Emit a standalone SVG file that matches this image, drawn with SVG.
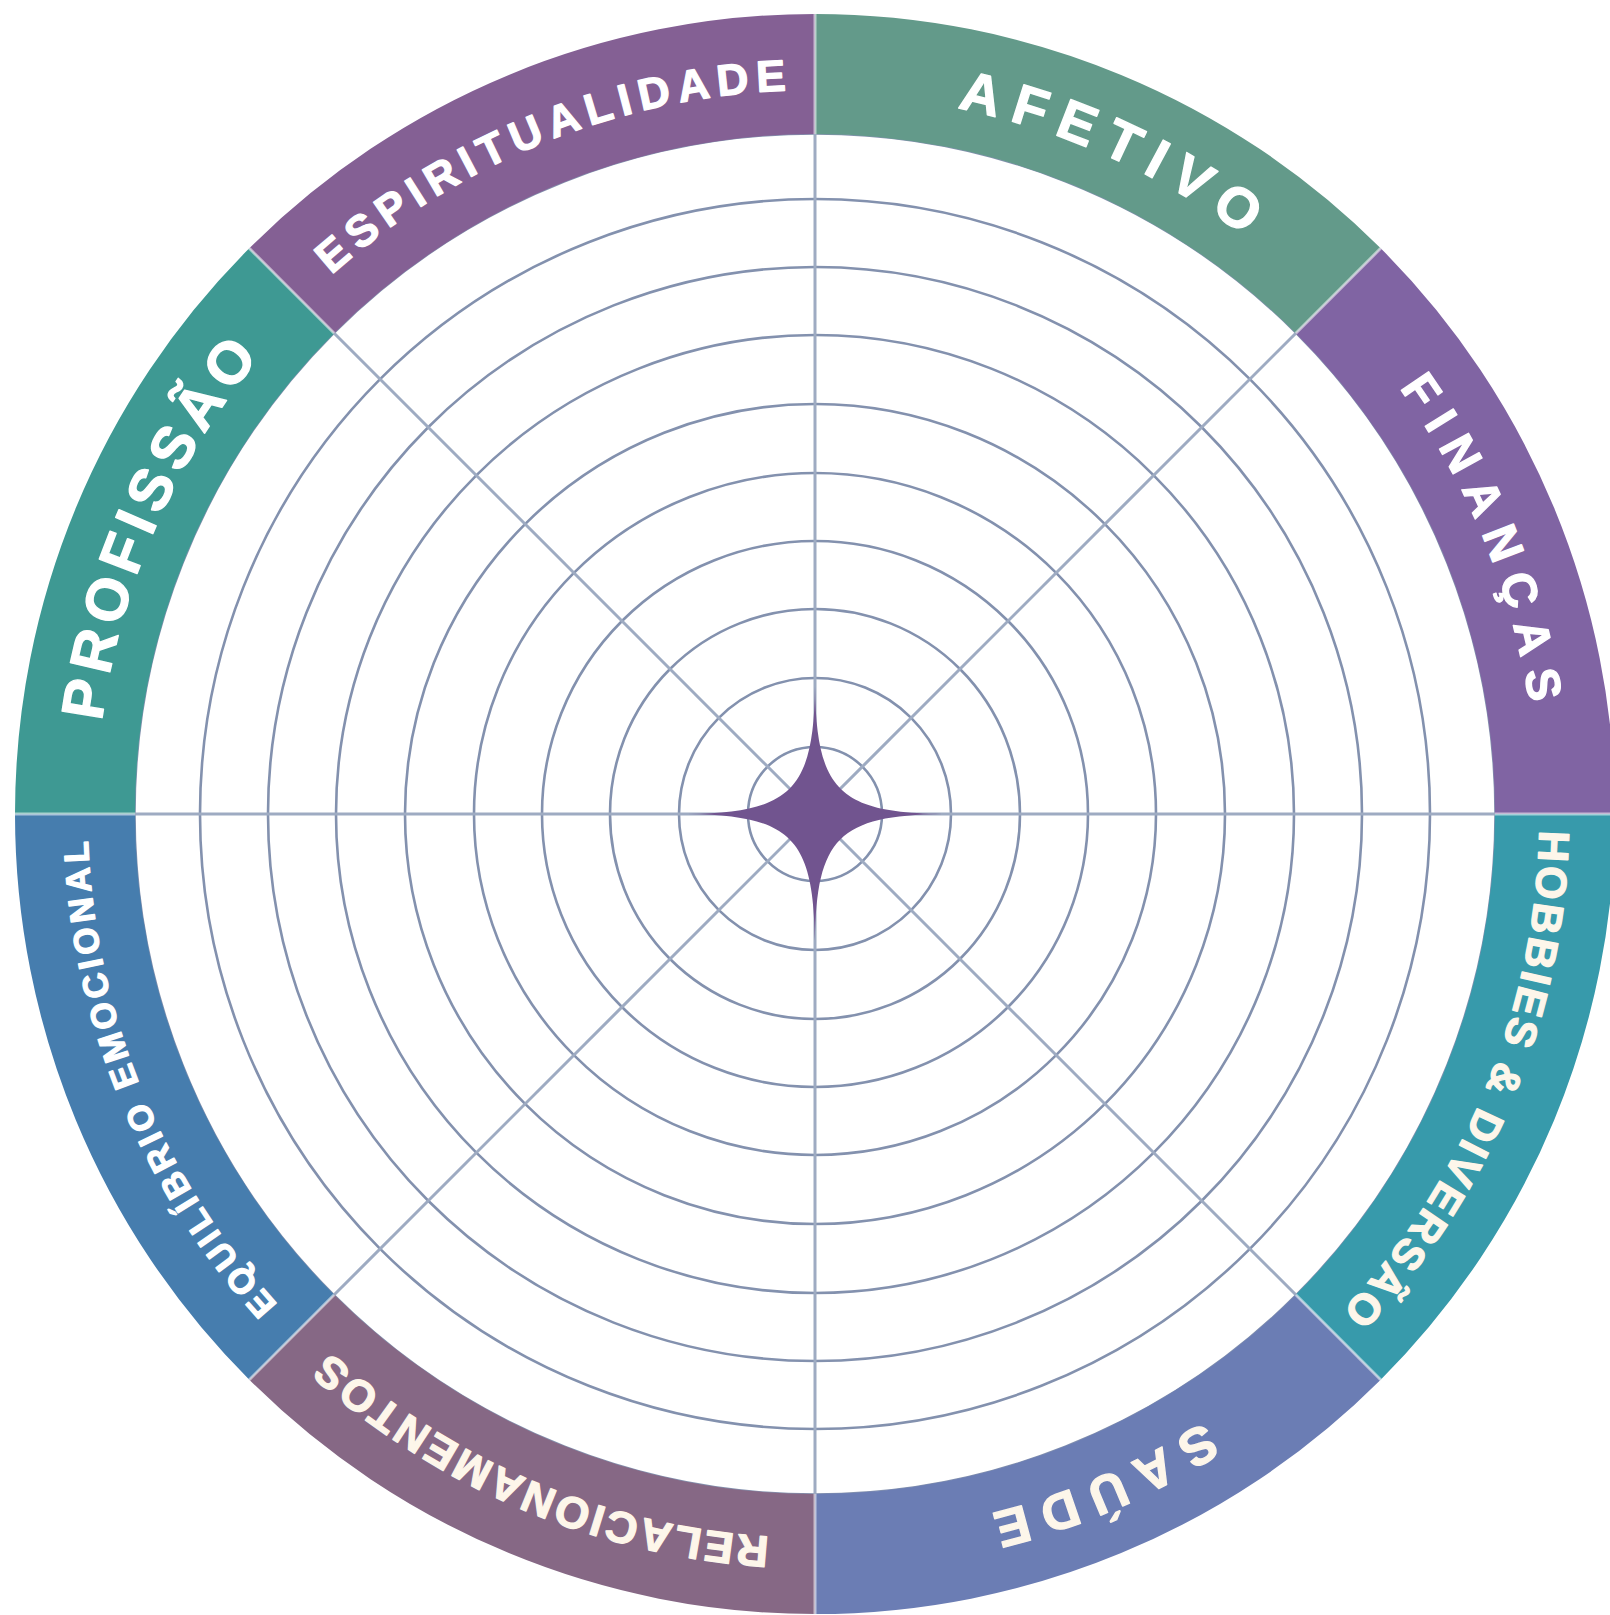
<svg xmlns="http://www.w3.org/2000/svg" width="1610" height="1615" viewBox="0 0 1610 1615">
<style>
.lbl{font-family:"Liberation Sans",Arial,sans-serif;font-weight:bold;stroke-width:1.3;stroke-linejoin:round}
.w{fill:#ffffff;stroke:#ffffff}
.c{fill:#fdf6ea;stroke:#fdf6ea}
.grid circle{fill:none;stroke:#8391ae;stroke-width:2.6}
.spoke{stroke:#9eabc2;stroke-width:3;fill:none}
.div{stroke:#ffffff;stroke-opacity:0.55;stroke-width:3}
</style>
<defs>
<path id="p-afetivo" d="M957.3,108.2 A720,720 0 0 1 1526.9,706.4"/>
<path id="p-financas" d="M1399.2,388.0 A723,723 0 0 1 1415.1,1217.2"/>
<path id="p-hobbies" d="M1539.3,830.4 A724.5,724.5 0 0 1 1047.3,1500.3"/>
<path id="p-saude" d="M1203.7,1421.8 A721.4,721.4 0 0 1 376.8,1387.1"/>
<path id="p-relac" d="M769.5,1536.9 A724.3,724.3 0 0 1 120.2,1018.5"/>
<path id="p-equil" d="M277.7,1304.6 A727.5,727.5 0 0 1 170.3,476.9"/>
<path id="p-prof" d="M102.0,721.4 A719,719 0 0 1 658.2,112.3"/>
<path id="p-espir" d="M331.5,275.1 A724,724 0 0 1 1156.0,175.4"/>
</defs>
<rect width="1610" height="1615" fill="#ffffff"/>
<g id="grid" class="grid">
<circle cx="815" cy="814" r="67"/>
<circle cx="815" cy="814" r="136"/>
<circle cx="815" cy="814" r="205"/>
<circle cx="815" cy="814" r="273"/>
<circle cx="815" cy="814" r="341"/>
<circle cx="815" cy="814" r="410"/>
<circle cx="815" cy="814" r="479"/>
<circle cx="815" cy="814" r="547"/>
<circle cx="815" cy="814" r="615"/>
<circle cx="815" cy="814" r="680" style="stroke-width:1.5"/>
</g>
<g id="connectors">
<line class="spoke" x1="815" y1="134" x2="815" y2="1494"/>
<line class="spoke" x1="135" y1="814" x2="1495" y2="814"/>
<line class="spoke" x1="1295.8" y1="333.2" x2="334.2" y2="1294.8"/>
<line class="spoke" x1="1295.8" y1="1294.8" x2="334.2" y2="333.2"/>
</g>
<g id="afetivo">
<path fill="#639a8a" d="M815,14 A800,800 0 0 1 1380.7,248.3 L1295.8,333.2 A680,680 0 0 0 815,134 Z"/>
<text class="lbl w" font-size="56" letter-spacing="12.4"><textPath href="#p-afetivo">AFETIVO</textPath></text>
</g>
<g id="financas">
<path fill="#8064a3" d="M1380.7,248.3 A800,800 0 0 1 1615,814 L1495,814 A680,680 0 0 0 1295.8,333.2 Z"/>
<text class="lbl w" font-size="48" letter-spacing="13.7"><textPath href="#p-financas">FINANÇAS</textPath></text>
</g>
<g id="hobbies">
<path fill="#379aab" d="M1615,814 A800,800 0 0 1 1380.7,1379.7 L1295.8,1294.8 A680,680 0 0 0 1495,814 Z"/>
<text class="lbl c" font-size="43" letter-spacing="3.3"><textPath href="#p-hobbies">HOBBIES &amp; DIVERSÃO</textPath></text>
</g>
<g id="saude">
<path fill="#6b7db4" d="M1380.7,1379.7 A800,800 0 0 1 815,1614 L815,1494 A680,680 0 0 0 1295.8,1294.8 Z"/>
<text class="lbl c" font-size="52" letter-spacing="12.6"><textPath href="#p-saude">SAÚDE</textPath></text>
</g>
<g id="relacionamentos">
<path fill="#866885" d="M815,1614 A800,800 0 0 1 249.3,1379.7 L334.2,1294.8 A680,680 0 0 0 815,1494 Z"/>
<text class="lbl c" font-size="44" letter-spacing="2.6"><textPath href="#p-relac">RELACIONAMENTOS</textPath></text>
</g>
<g id="equilibrio">
<path fill="#467dae" d="M249.3,1379.7 A800,800 0 0 1 15,814 L135,814 A680,680 0 0 0 334.2,1294.8 Z"/>
<text class="lbl w" font-size="35" letter-spacing="4.4"><textPath href="#p-equil">EQUILÍBRIO EMOCIONAL</textPath></text>
</g>
<g id="profissao">
<path fill="#3e9993" d="M15,814 A800,800 0 0 1 249.3,248.3 L334.2,333.2 A680,680 0 0 0 135,814 Z"/>
<text class="lbl w" font-size="59" letter-spacing="6.8"><textPath href="#p-prof">PROFISSÃO</textPath></text>
</g>
<g id="espiritualidade">
<path fill="#846094" d="M249.3,248.3 A800,800 0 0 1 815,14 L815,134 A680,680 0 0 0 334.2,333.2 Z"/>
<text class="lbl w" font-size="44" letter-spacing="7.3"><textPath href="#p-espir">ESPIRITUALIDADE</textPath></text>
</g>
<g id="dividers">
<line class="div" x1="815" y1="14" x2="815" y2="134"/>
<line class="div" x1="1380.7" y1="248.3" x2="1295.8" y2="333.2"/>
<line class="div" x1="1615" y1="814" x2="1495" y2="814"/>
<line class="div" x1="1380.7" y1="1379.7" x2="1295.8" y2="1294.8"/>
<line class="div" x1="815" y1="1614" x2="815" y2="1494"/>
<line class="div" x1="249.3" y1="1379.7" x2="334.2" y2="1294.8"/>
<line class="div" x1="15" y1="814" x2="135" y2="814"/>
<line class="div" x1="249.3" y1="248.3" x2="334.2" y2="333.2"/>
</g>
<g id="star">
<path fill="#71548f" transform="translate(815,814)" d="M0,-127 C1.5,-24 24,-1.5 127,0 C24,1.5 1.5,24 0,127 C-1.5,24 -24,1.5 -127,0 C-24,-1.5 -1.5,-24 0,-127 Z"/>
</g>
</svg>
